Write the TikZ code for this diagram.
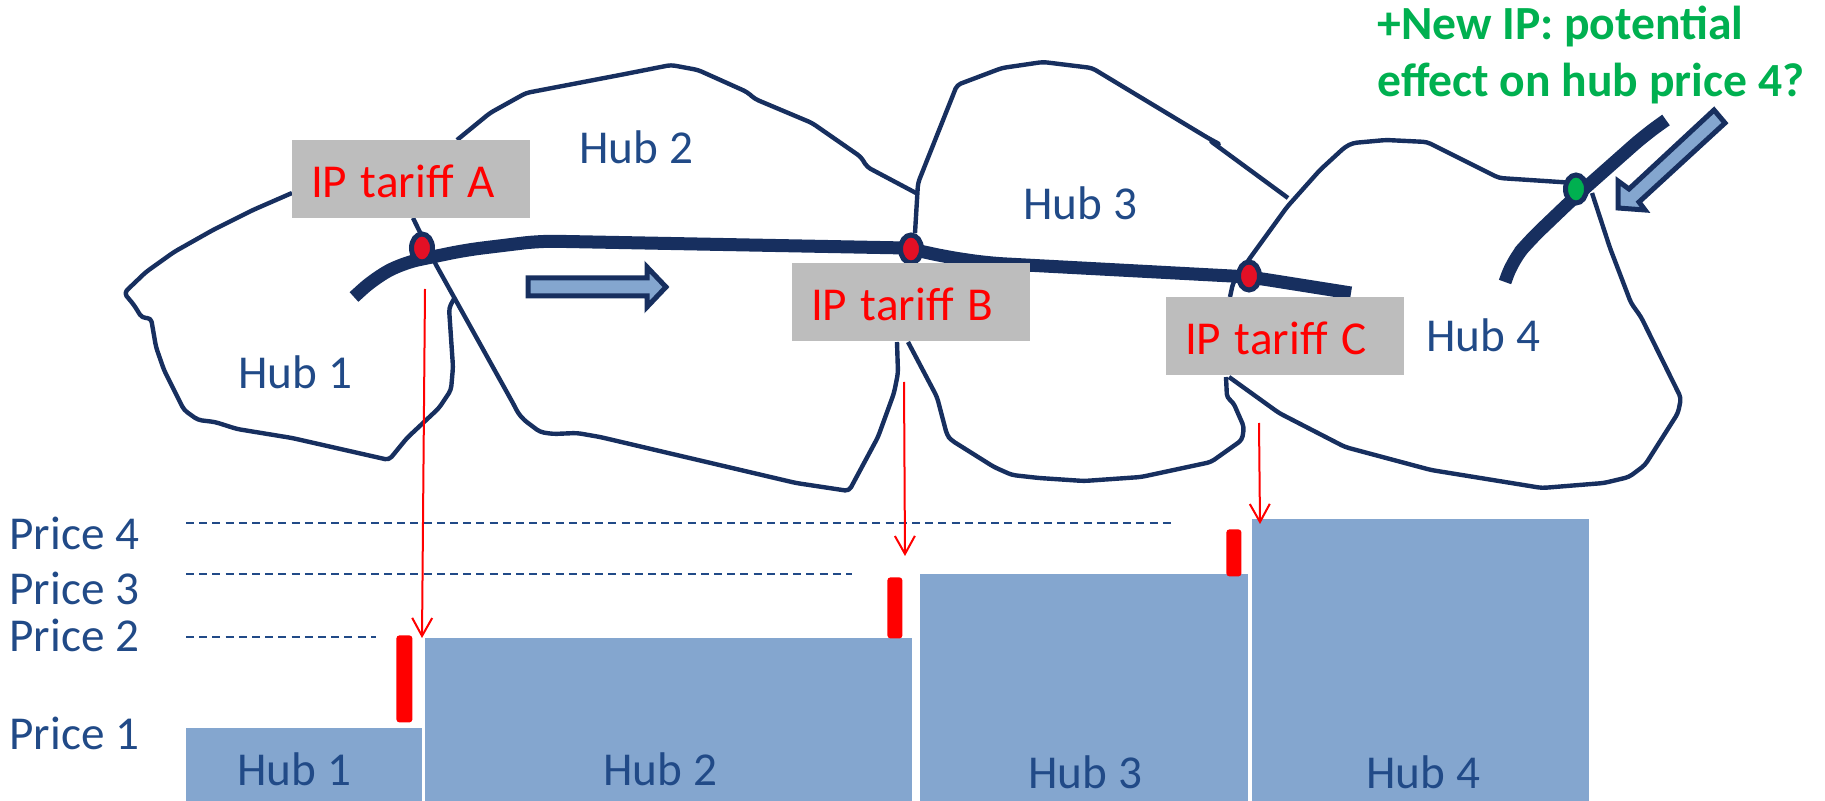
\documentclass[tikz,border=0pt]{standalone}
\usepackage{fontspec}
\setmainfont{Carlito}
\usepackage{xcolor}
\usetikzlibrary{arrows.meta,shapes.geometric}
\definecolor{hubnavy}{HTML}{172F5F}
\definecolor{hubtext}{HTML}{214A87}
\definecolor{hubblue}{HTML}{84A6CF}
\definecolor{tariffgrey}{HTML}{BDBDBD}
\definecolor{newgreen}{HTML}{00B050}
\definecolor{markerred}{HTML}{E31025}
\newcommand{\tarifflabel}[1]{\hspace*{9.5pt}\spaceskip=0.29em\relax #1}
\tikzset{
    hub-edge/.style = {draw=hubnavy, line width=2.2pt, rounded corners=2pt, line join=round},
    thick-link/.style = {draw=hubnavy, line width=6.5pt},
    hub-label/.style = {anchor=base west, inner sep=0pt, text=hubtext, font=\fontsize{23.6}{24}\selectfont},
    tariff-box/.style = {fill=tariffgrey, inner sep=0pt, text=red, font=\fontsize{23.6}{24}\selectfont, text width=119pt, text height=19pt, minimum height=39pt},
    hub-bar/.style = {fill=hubblue, anchor=north west, inner sep=0pt},
    tariff-bar/.style = {fill=red, anchor=north west, inner sep=0pt, rounded corners=1.5pt},
    ip-marker/.style = {ellipse, draw=hubnavy, line width=2.5pt, inner sep=0pt, minimum width=10.5pt, minimum height=14pt},
    price-line/.style = {draw=hubtext, line width=1.2pt, dash pattern=on 4pt off 2.6pt},
    tariff-arrow/.style = {draw=red, line width=1pt, -{Straight Barb[length=9pt,width=10pt]}},
    flow-arrow/.style = {draw=hubnavy, fill=hubblue, line width=2.5pt, line join=miter},
}

\begin{document}
\begin{tikzpicture}[x=0.5pt,y=-0.5pt]
\useasboundingbox (0,0) rectangle (1825,801);

% hub outlines
\draw[hub-edge] (292,193) -- (253,210) -- (213,230) -- (174,252) -- (146,272) -- (124,293) -- (134,305) -- (142,318) -- (151,318) -- (156,347) -- (164,370) -- (184,410) -- (198,420) -- (215,422) -- (237,429) -- (292,438) -- (389,460) -- (407,438) -- (439,408) -- (451,390) -- (453,367) -- (449,308) -- (455,297);
\draw[hub-edge] (457,140) -- (490,113) -- (526,93) -- (620,75) -- (671,65) -- (698,70) -- (747,92) -- (755,99) -- (812,123) -- (861,157) -- (867,167) -- (916,193);
\draw[hub-edge] (413,218) -- (435,263) -- (514,405) -- (518,413) -- (524,420) -- (540,432) -- (553,434) -- (577,433) -- (600,437) -- (796,483) -- (849,491) -- (878,437) -- (894,393) -- (898,373) -- (897,342);
\draw[hub-edge] (1288,198) -- (1209,140) -- (1221,145) -- (1208,138) -- (1092,68) -- (1043,62) -- (1002,68) -- (957,85) -- (918,183) -- (915,233);
\draw[hub-edge] (908,342) -- (937,397) -- (947,435) -- (951,440) -- (994,467) -- (1012,475) -- (1039,478) -- (1084,481) -- (1141,477) -- (1211,462) -- (1242,440) -- (1244,427) -- (1233,402) -- (1227,398) -- (1226,377);
\draw[hub-edge] (1230,297) -- (1233,283) -- (1250,258) -- (1287,207) -- (1320,170) -- (1345,147) -- (1353,143) -- (1386,140) -- (1427,142) -- (1499,178) -- (1575,183);
\draw[hub-edge] (1592,193) -- (1610,248) -- (1631,303) -- (1641,317) -- (1681,398) -- (1678,413) -- (1645,465) -- (1629,477) -- (1604,483) -- (1542,488) -- (1431,470) -- (1345,447) -- (1279,413) -- (1229,377);

% transmission links
\draw[thick-link, rounded corners=8pt] (354,297) -- (375,278) -- (403,263) -- (466,250) -- (540,241) -- (906,248);
\draw[thick-link, rounded corners=8pt] (906,248) -- (947,257) -- (988,263) -- (1250,277) -- (1351,293);
\draw[thick-link, rounded corners=8pt] (1666,120) -- (1645,135) -- (1575,197) -- (1530,240) -- (1513,260) -- (1505,282);

% interconnection points
\node[ip-marker, fill=markerred] (ipA) at (422,248) {};
\node[ip-marker, fill=markerred] (ipB) at (911,249) {};
\node[ip-marker, fill=markerred] (ipC) at (1249,276) {};
\node[ip-marker, fill=newgreen] (ipNew) at (1576,189) {};

\node[tariff-box] (tariffA) at (411,179) {\tarifflabel{IP tariff A}};
\node[tariff-box] (tariffB) at (911,302) {\tarifflabel{IP tariff B}};
\node[tariff-box] (tariffC) at (1285,336) {\tarifflabel{IP tariff C}};

\node[hub-label] (hubA) at (238,389) {Hub 1};
\node[hub-label] (hubB) at (579,164) {Hub 2};
\node[hub-label] (hubC) at (1023,220) {Hub 3};
\node[hub-label] (hubD) at (1426,352) {Hub 4};

% flow direction
\draw[flow-arrow] (528,278) -- (647,278) -- (647,267) -- (666,287) -- (647,307) -- (647,296) -- (528,296) -- cycle;
\draw[flow-arrow] (1714,110) -- (1725,123) -- (1639,202) -- (1645,210) -- (1618,208) -- (1618,181) -- (1629,189) -- cycle;

\node[anchor=base west, inner sep=0pt, text=newgreen, font=\fontsize{23.8}{28.5}\selectfont\bfseries, align=left] (newIP) at (1377,97) {+New IP: potential\\effect on hub price 4?};

% price bars
\node[hub-bar, minimum width=118pt, minimum height=36.5pt] (barA) at (186,728) {};
\node[hub-bar, minimum width=243.5pt, minimum height=81.5pt] (barB) at (425,638) {};
\node[hub-bar, minimum width=164pt, minimum height=113.5pt] (barC) at (920,574) {};
\node[hub-bar, minimum width=168.5pt, minimum height=141pt] (barD) at (1252,519) {};

\node[hub-label] (barlabelA) at (237,785) {Hub 1};
\node[hub-label] (barlabelB) at (603,785) {Hub 2};
\node[hub-label] (barlabelC) at (1028,788) {Hub 3};
\node[hub-label] (barlabelD) at (1366,788) {Hub 4};

\node[tariff-bar, minimum width=8pt, minimum height=43.5pt] (stepA) at (396,635) {};
\node[tariff-bar, minimum width=7.5pt, minimum height=30.5pt] (stepB) at (887,577) {};
\node[tariff-bar, minimum width=7.5pt, minimum height=23.5pt] (stepC) at (1226,529) {};

\node[hub-label] (priceD) at (9,550) {Price 4};
\node[hub-label] (priceC) at (9,604) {Price 3};
\node[hub-label] (priceB) at (9,651) {Price 2};
\node[hub-label] (priceA) at (9,749) {Price 1};

\coordinate (levelD) at (186,523);
\coordinate (levelDend) at (1175,523);
\coordinate (levelC) at (186,574);
\coordinate (levelCend) at (852,574);
\coordinate (levelB) at (186,637);
\coordinate (levelBend) at (376,637);
\draw[price-line] (levelD) -- (levelDend);
\draw[price-line] (levelC) -- (levelCend);
\draw[price-line] (levelB) -- (levelBend);

% tariff steps
\coordinate (dropA) at (425,289);
\coordinate (landA) at (422,638);
\coordinate (dropB) at (904,382);
\coordinate (landB) at (905,556);
\coordinate (dropC) at (1259,423);
\coordinate (landC) at (1260,524);
\draw[tariff-arrow] (dropA) -- (landA);
\draw[tariff-arrow] (dropB) -- (landB);
\draw[tariff-arrow] (dropC) -- (landC);
\end{tikzpicture}
\end{document}
